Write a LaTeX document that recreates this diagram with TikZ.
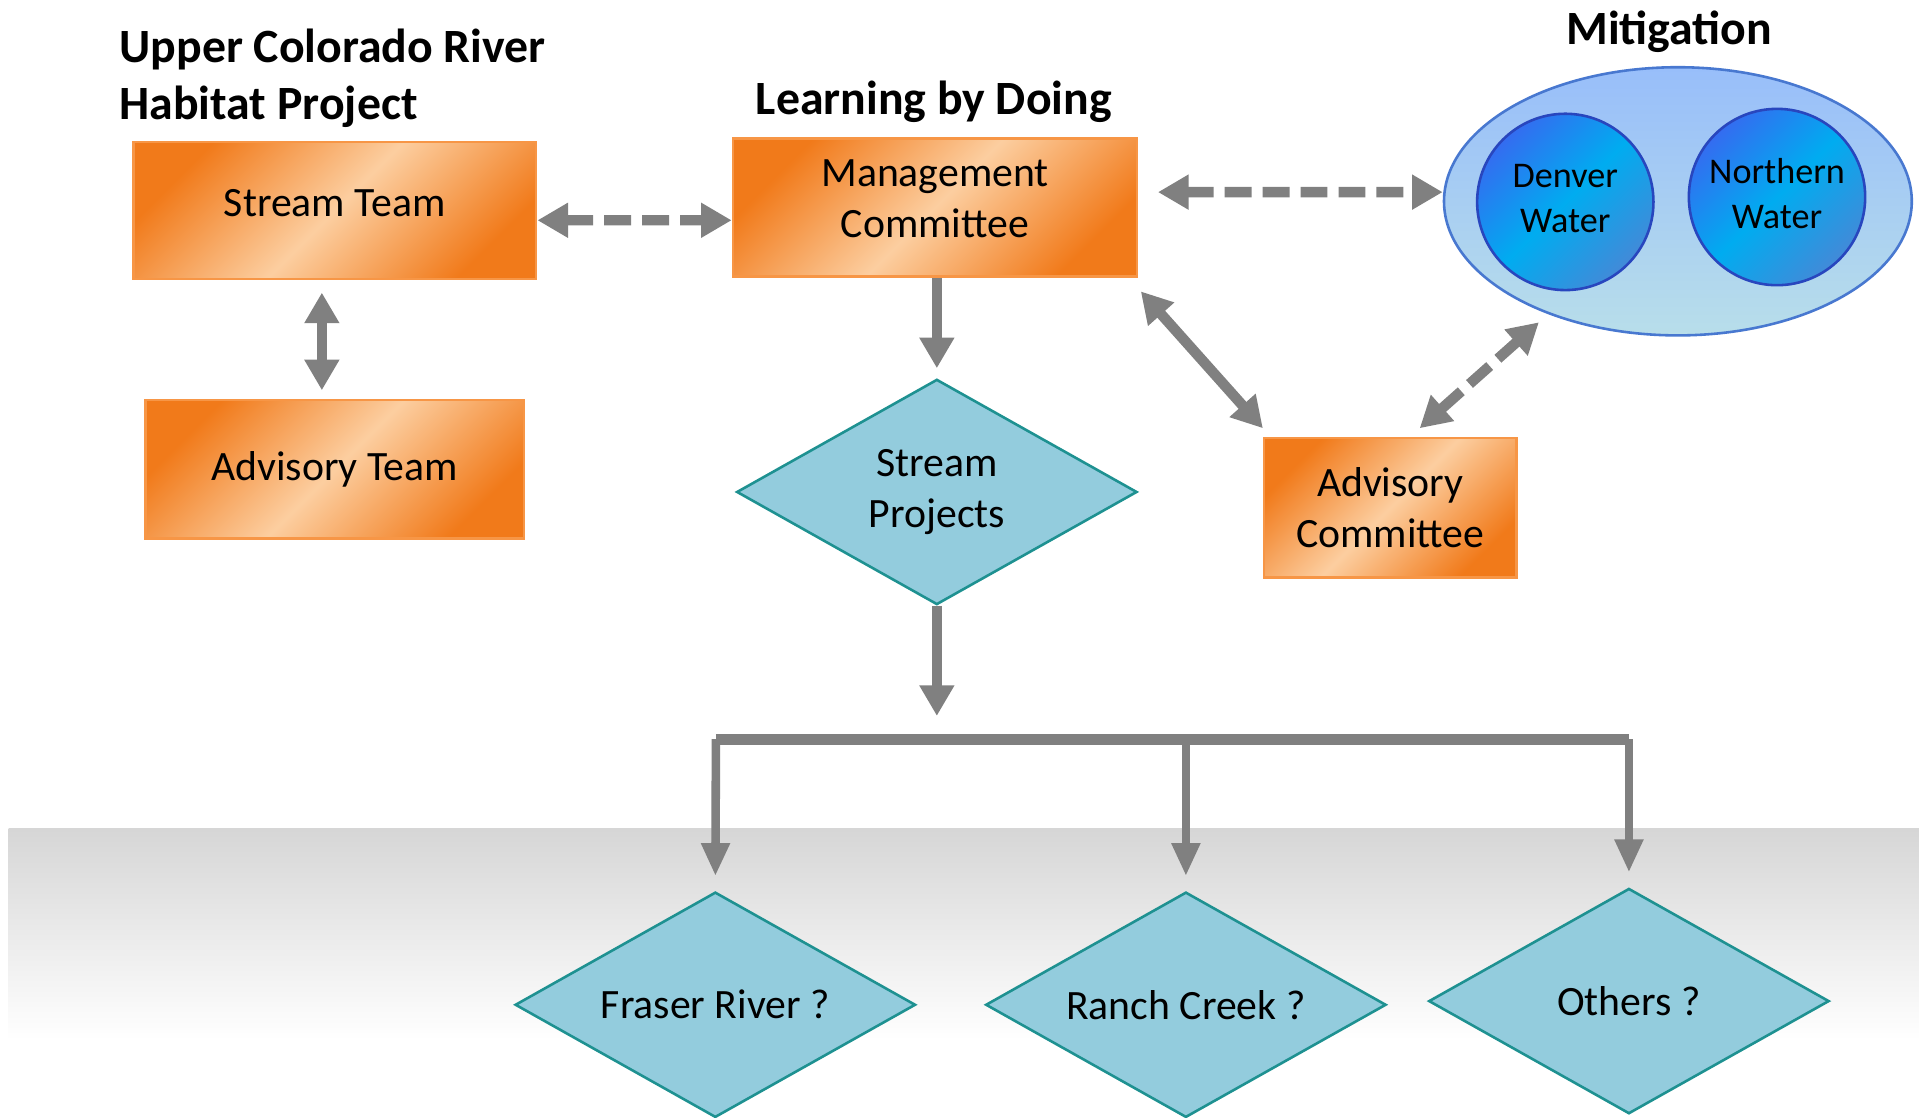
\documentclass[tikz,border=0pt]{standalone}
\usepackage{fontspec}
\setmainfont{Carlito}
\usetikzlibrary{shapes.geometric,arrows.meta,positioning}
\definecolor{orD}{RGB}{241,122,26}
\definecolor{orL}{RGB}{252,206,160}
\definecolor{orB}{RGB}{247,150,70}
\definecolor{dmF}{RGB}{147,204,221}
\definecolor{dmB}{RGB}{30,145,145}
\definecolor{arG}{RGB}{128,128,128}
\definecolor{elT}{RGB}{152,190,250}
\definecolor{elB}{RGB}{184,222,234}
\definecolor{elR}{RGB}{72,120,208}
\definecolor{wtT}{RGB}{52,108,240}
\definecolor{wtM}{RGB}{0,172,240}
\definecolor{wtB}{RGB}{66,138,216}
\definecolor{wtR}{RGB}{40,70,190}
\definecolor{bnd}{RGB}{214,214,214}

\begin{document}
\begin{tikzpicture}[x=0.01cm, y=-0.01cm,
    >={Triangle[width=0.27cm,length=0.25cm]},
    txt/.style={font=\fontsize{9.7pt}{11.9pt}\selectfont, align=center},
    ttl/.style={font=\fontsize{11.1pt}{13.4pt}\selectfont\bfseries, inner sep=0pt},
    box/.style={txt, rectangle, draw=orB, line width=0.6pt, top color=orD, bottom color=orD,
      middle color=orL, shading angle=45},
    dia/.style={txt, diamond, draw=dmB, fill=dmF, line width=0.6pt, inner sep=0pt, aspect=1.78,
      minimum width=3.27cm, minimum height=1.84cm},
    wtr/.style={circle, draw=wtR, line width=0.6pt, inner sep=0pt, minimum size=1.44cm,
      top color=wtT, bottom color=wtB, middle color=wtM, shading angle=45, align=center,
      font=\fontsize{8.4pt}{10.5pt}\selectfont},
    arw/.style={draw=arG, line width=0.085cm},
    dsh/.style={dash pattern=on 0.22cm off 0.09cm},
    thn/.style={draw=arG, line width=0.07cm, -{Triangle[width=0.22cm,length=0.27cm]}, shorten >=0.12cm}]
  \path[use as bounding box, fill=white] (0,0) rectangle (1568,913);
  \shade[top color=bnd, bottom color=white] (7,677) rectangle (1568,850);

  \node[ttl, anchor=west, align=left] (t1) at (97,64) {Upper Colorado River\\Habitat Project};
  \node[ttl] (t2) at (763,83) {Learning by Doing};
  \node[ttl] (t3) at (1364,26) {Mitigation};

  \node[box, minimum width=3.29cm, minimum height=1.12cm, text depth=0.13cm] (b1) at (273.5,172) {Stream Team};
  \node[box, minimum width=3.09cm, minimum height=1.13cm] (b2) at (273.5,383.5) {Advisory Team};
  \node[box, minimum width=3.30cm, minimum height=1.13cm, text depth=0.14cm] (b3) at (764,169.5) {Management\\Committee};
  \node[box, minimum width=2.06cm, minimum height=1.14cm] (b4) at (1136,415) {Advisory\\Committee};

  \node[ellipse, draw=elR, line width=0.6pt, top color=elT, bottom color=elB,
    minimum width=3.82cm, minimum height=2.19cm] (e1) at (1371,164.5) {};
  \node[wtr, text depth=0.06cm] (w1) at (1279,165) {Denver\\Water};
  \node[wtr, text depth=0.06cm] (w2) at (1452,161) {Northern\\Water};

  \node[dia] (d1) at (765.5,402) {Stream\\Projects};
  \node[dia] (d2) at (584.5,821) {Fraser River ?};
  \node[dia] (d3) at (969,821) {Ranch Creek ?};
  \node[dia] (d4) at (1331,818) {Others ?};

  \coordinate (h1) at (585,604);
  \coordinate (h2) at (1331,604);

  \draw[arw, <->, dsh] ([yshift=-0.08cm]b1.east) -- ([yshift=-0.105cm]b3.west);
  \draw[arw, <->, shorten <=0.1cm, shorten >=0.07cm] ([xshift=-0.105cm]b1.south) -- ([xshift=-0.105cm]b2.north);
  \draw[arw, ->, shorten >=0.08cm] (d1.north |- b3.south) -- (d1.north);
  \draw[arw, <->, dsh, shorten <=0.16cm] ([yshift=0.125cm]b3.east) -- ([yshift=0.075cm]e1.west);
  \draw[arw, <->] ([xshift=0.02cm,yshift=-0.11cm]b3.south east) -- ([yshift=0.07cm]b4.north west);
  \draw[arw, <->, dsh, shorten >=0.1cm] ([xshift=0.24cm,yshift=0.07cm]b4.north) -- (e1.221);
  \draw[arw, ->, shorten >=0.19cm] (d1.south) -- (d1.south |- h1);
  \draw[arG, line width=0.09cm] (h1) -- (h2);
  \draw[thn] (h1) -- (d2.north);
  \draw[thn] (d3.north |- h1) -- (d3.north);
  \draw[thn] (h2) -- (d4.north);
\end{tikzpicture}
\end{document}
